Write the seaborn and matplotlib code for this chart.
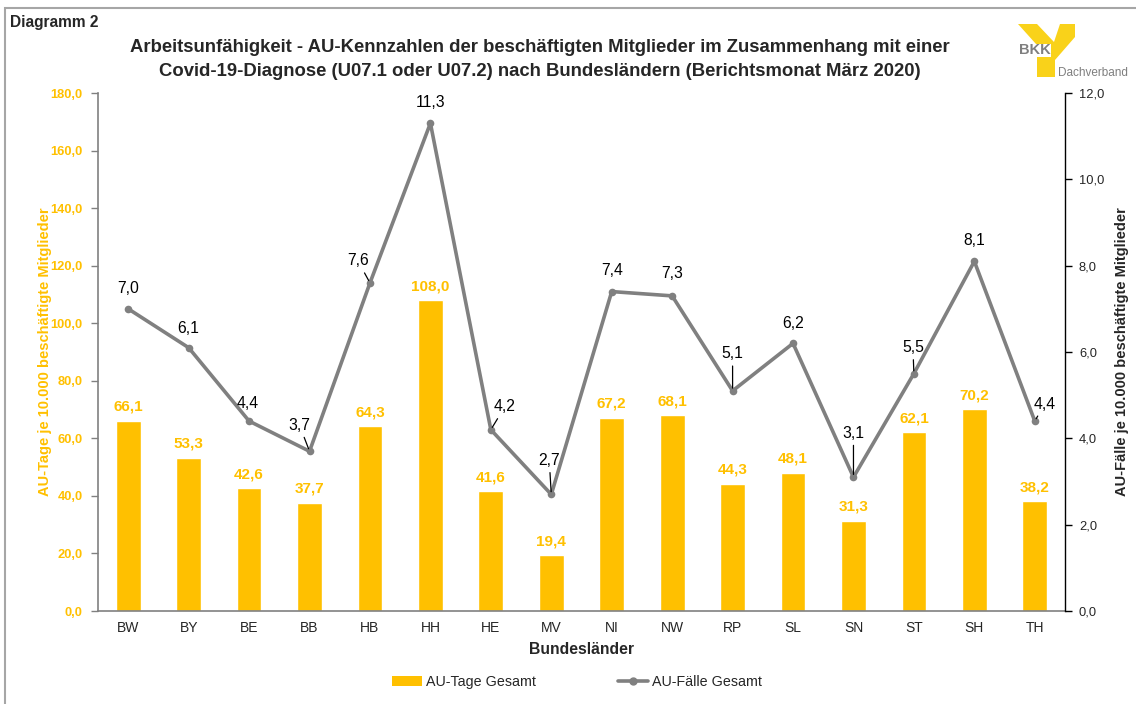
import numpy as np
import pandas as pd
import matplotlib
matplotlib.use("Agg")
import matplotlib.pyplot as plt
import seaborn as sns
from matplotlib.patches import Patch, Rectangle, Polygon
from matplotlib.lines import Line2D
from matplotlib.ticker import FuncFormatter

# ---- data ----
laender = ["BW", "BY", "BE", "BB", "HB", "HH", "HE", "MV", "NI", "NW",
           "RP", "SL", "SN", "ST", "SH", "TH"]
au_tage = [66.1, 53.3, 42.6, 37.7, 64.3, 108.0, 41.6, 19.4, 67.2, 68.1,
           44.3, 48.1, 31.3, 62.1, 70.2, 38.2]
au_faelle = [7.0, 6.1, 4.4, 3.7, 7.6, 11.3, 4.2, 2.7, 7.4, 7.3,
             5.1, 6.2, 3.1, 5.5, 8.1, 4.4]

# label offsets (pixels, dx, dy) and whether a leader line is drawn
lbl_off = [(0, 20), (0, 19), (-1, 18), (-10, 26), (-12, 22), (0, 21), (14, 23), (-2, 34),
           (0, 21), (0, 22), (0, 37), (0, 20), (0, 44), (-1, 26), (0, 21), (10, 17)]
leader = [False, False, False, True, True, False, True, True,
          False, False, True, False, True, True, False, True]

YEL = "#FFC000"
GRY = "#808080"

sns.set_style("white")
plt.rcParams["font.family"] = ["Liberation Sans", "DejaVu Sans"]

W, H = 1136, 704
fig = plt.figure(figsize=(W / 100, H / 100), dpi=100)

def fx(px):
    return px / W

def fy(py):
    return 1 - py / H

ax = fig.add_axes([fx(98), fy(611), fx(1065) - fx(98), fy(93) - fy(611)])

df = pd.DataFrame({"Land": laender, "Tage": au_tage, "Faelle": au_faelle})
df["pos"] = np.arange(len(laender))

sns.barplot(data=df, x="Land", y="Tage", color=YEL, saturation=1, width=0.41,
            ax=ax, order=laender)
ax.set_xlim(-0.5, len(laender) - 0.5)
ax.set_ylim(0, 180)
ax.set_yticks(np.arange(0, 181, 20))
ax.yaxis.set_major_formatter(FuncFormatter(lambda v, p: f"{v:.1f}".replace(".", ",")))
for t in ax.get_yticklabels():
    t.set_color(YEL)
    t.set_fontweight("bold")
    t.set_fontsize(9.3)
ax.tick_params(axis="y", direction="out", length=5, color=GRY, width=1, pad=6)
ax.tick_params(axis="x", length=0, labelsize=10, pad=7)
ax.set_xlabel("Bundesländer", fontsize=11.3, fontweight="bold", labelpad=5)
ax.set_ylabel("AU-Tage je 10.000 beschäftigte Mitglieder", color=YEL,
              fontsize=10.5, fontweight="bold")
ax.yaxis.set_label_coords((52 - 98) / 967, 0.5)
for s in ["top", "right"]:
    ax.spines[s].set_visible(False)
ax.spines["left"].set_color(GRY)
ax.spines["bottom"].set_color(GRY)
ax.spines["left"].set_linewidth(1.2)
ax.spines["bottom"].set_linewidth(1.2)

ax.bar_label(ax.containers[0], labels=[f"{v:.1f}".replace(".", ",") for v in au_tage],
             padding=5, color=YEL, fontweight="bold", fontsize=11)

ax2 = ax.twinx()
sns.lineplot(data=df, x="pos", y="Faelle", color=GRY, lw=2.6, marker="o",
             markersize=5.5, markeredgewidth=0, ax=ax2)
ax2.set_ylim(0, 12)
ax2.set_xlim(-0.5, len(laender) - 0.5)
ax2.set_yticks(np.arange(0, 12.1, 2))
ax2.yaxis.set_major_formatter(FuncFormatter(lambda v, p: f"{v:.1f}".replace(".", ",")))
ax2.tick_params(axis="y", direction="out", length=5, color="black", width=1,
                labelsize=9.3, pad=5)
ax2.set_ylabel("AU-Fälle je 10.000 beschäftigte Mitglieder", fontsize=10.5,
               fontweight="bold")
ax2.yaxis.set_label_coords((1115 - 98) / 967, 0.5)
ax2.set_xlabel("")
for s in ["top", "left", "bottom"]:
    ax2.spines[s].set_visible(False)
ax2.spines["right"].set_color("black")
ax2.spines["right"].set_linewidth(1.0)

for i, v in enumerate(au_faelle):
    dx, dy = lbl_off[i]
    kw = {}
    if leader[i]:
        kw["arrowprops"] = dict(arrowstyle="-", color="black", lw=0.9,
                                shrinkA=1, shrinkB=2)
    ax2.annotate(f"{v:.1f}".replace(".", ","), xy=(i, v),
                 xytext=(dx * 0.72, dy * 0.72), textcoords="offset points",
                 ha="center", va="center", fontsize=11.3, color="black", **kw)

# Titles
fig.text(fx(10), fy(22), "Diagramm 2", fontsize=11.2, fontweight="bold", va="center", ha="left")
fig.text(fx(540), fy(48), "Arbeitsunfähigkeit - AU-Kennzahlen der beschäftigten Mitglieder im Zusammenhang mit einer",
         fontsize=13.3, fontweight="bold", ha="center", va="center")
fig.text(fx(540), fy(72), "Covid-19-Diagnose (U07.1 oder U07.2) nach Bundesländern (Berichtsmonat März 2020)",
         fontsize=13.3, fontweight="bold", ha="center", va="center")

# Border (open at bottom and right, like the reference)
fig.patches.append(Rectangle((fx(5), fy(715)), fx(1150) - fx(5), fy(8) - fy(715),
                             transform=fig.transFigure, fill=False,
                             edgecolor="#a6a6a6", lw=1.5))

# Logo (BKK Dachverband)
LOGO = "#F9D21A"
logo_pts = [(1018, 24), (1037, 24), (1054, 42), (1060, 24), (1075, 24), (1075, 37),
            (1055, 60), (1055, 77), (1037, 77), (1037, 57), (1051, 57), (1051, 44),
            (1036, 44)]
fig.patches.append(Polygon([(fx(x), fy(y)) for x, y in logo_pts], closed=True,
                           transform=fig.transFigure, facecolor=LOGO,
                           edgecolor="none"))
fig.text(fx(1019), fy(50.5), "BKK", fontsize=10.5, fontweight="bold", color="#7f7f7f",
         ha="left", va="center")
fig.text(fx(1058), fy(73), "Dachverband", fontsize=8.5, color="#7f7f7f",
         ha="left", va="center")

# Legend
handles = [Patch(facecolor=YEL, edgecolor="none"),
           Line2D([], [], color=GRY, lw=2.6, marker="o", markersize=5)]
fig.legend(handles, ["AU-Tage Gesamt", "AU-Fälle Gesamt"], loc="center",
           bbox_to_anchor=(fx(577), fy(682)), ncol=2, frameon=False,
           fontsize=10.3, handlelength=2.1, handletextpad=0.3, columnspacing=5.7)

fig.savefig("out.png", dpi=100)
